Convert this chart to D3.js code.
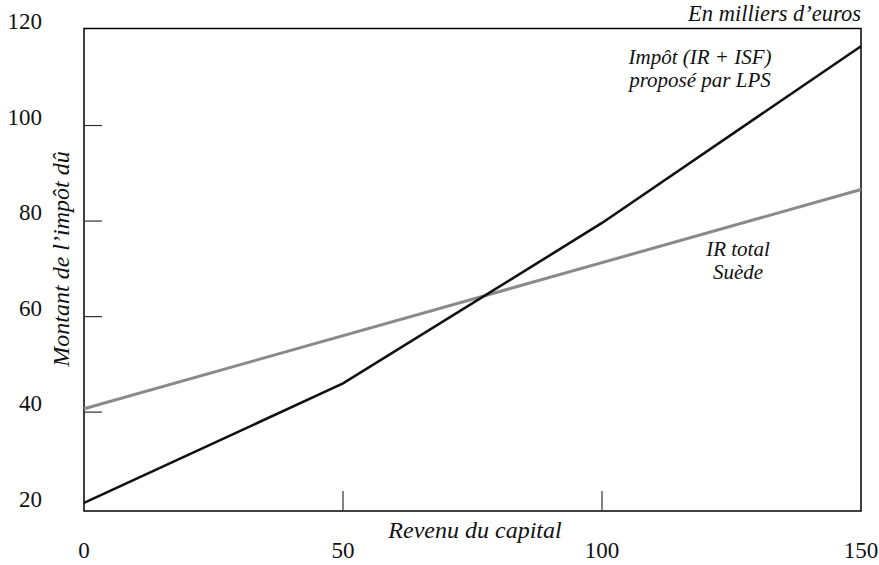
<!DOCTYPE html>
<html><head><meta charset="utf-8">
<script src="https://cdn.jsdelivr.net/npm/d3@7"></script>
<style>body{margin:0;background:#fff}svg{display:block}</style>
</head><body><svg id="c" width="879" height="565"></svg>
<script>
const xValues = [0, 50, 100, 150];
const lpsTax = [21, 46, 79.6, 116.6];
const swedenX = [0, 150];
const swedenTax = [40.7, 86.6];
const xTicks = [0, 50, 100, 150];
const yTicks = [20, 40, 60, 80, 100, 120];
const xTickMarks = [50, 100];
const yTickMarks = [40, 60, 80, 100];

const FF = '"Liberation Serif","Times New Roman",serif';
const svg = d3.select("#c");
const x = d3.scaleLinear().domain([0,150]).range([84,861]);
const y = d3.scaleLinear().domain([19.3,120]).range([511,30]);

function txt(sel){ return sel.style("font-family",FF).attr("fill","#111"); }

// frame
svg.append("rect").attr("x",x(0)).attr("y",28.5).attr("width",x(150)-x(0)).attr("height",511-28.5)
  .attr("fill","none").attr("stroke","#000").attr("stroke-width",1.5);

// y ticks inward
svg.selectAll(".yt").data(yTickMarks).enter().append("line")
  .attr("x1",x(0)).attr("x2",x(0)+18).attr("y1",d=>y(d)).attr("y2",d=>y(d))
  .attr("stroke","#333").attr("stroke-width",1.2);
// x ticks inward
svg.selectAll(".xt").data(xTickMarks).enter().append("line")
  .attr("x1",d=>x(d)).attr("x2",d=>x(d)).attr("y1",511).attr("y2",491)
  .attr("stroke","#333").attr("stroke-width",1.2);

// y labels
txt(svg.selectAll(".yl").data(yTicks).enter().append("text"))
  .attr("x",42).attr("y",d=>y(d)-1).attr("text-anchor","end")
  .attr("font-size",23).text(d=>d);
// x labels
txt(svg.selectAll(".xl").data(xTicks).enter().append("text"))
  .attr("x",d=>x(d)).attr("y",558).attr("text-anchor","middle")
  .attr("font-size",23).text(d=>d);

// axis titles
txt(svg.append("text")).attr("x",475).attr("y",538).attr("text-anchor","middle")
  .attr("font-style","italic").attr("font-size",24).text("Revenu du capital");
txt(svg.append("text")).attr("transform","translate(69,259) rotate(-90)").attr("text-anchor","middle")
  .attr("font-style","italic").attr("font-size",24).text("Montant de l’impôt dû");
txt(svg.append("text")).attr("x",861).attr("y",21).attr("text-anchor","end")
  .attr("font-style","italic").attr("font-size",22.5).text("En milliers d’euros");

// lines
const line = d3.line().x(d=>x(d[0])).y(d=>y(d[1]));
svg.append("path").datum(swedenX.map((v,i)=>[v,swedenTax[i]])).attr("d",line)
  .attr("fill","none").attr("stroke","#8a8a8a").attr("stroke-width",3);
svg.append("path").datum(xValues.map((v,i)=>[v,lpsTax[i]])).attr("d",line)
  .attr("fill","none").attr("stroke","#111").attr("stroke-width",2.6);

// annotations
const ann = [["Impôt (IR + ISF)",700,64],["proposé par LPS",700,87],["IR total",738,256],["Suède",738,279]];
txt(svg.selectAll(".an").data(ann).enter().append("text"))
  .attr("x",d=>d[1]).attr("y",d=>d[2]).attr("text-anchor","middle")
  .attr("font-style","italic").attr("font-size",21).text(d=>d[0]);
</script></body></html>
